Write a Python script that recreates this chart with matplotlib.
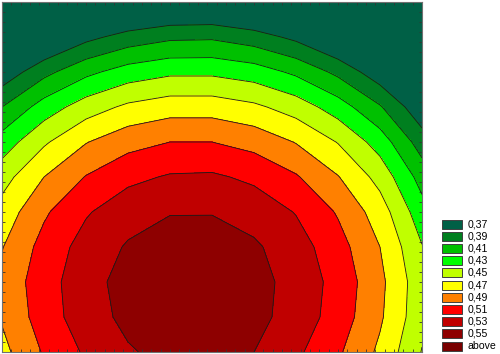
import matplotlib
matplotlib.use("Agg")
import matplotlib.pyplot as plt
from matplotlib.patches import Rectangle
import numpy as np

# grid columns / rows (row 0 = top of the plot)
x_vals = [0, 1, 2, 3, 4, 5, 6, 7, 8, 9, 10]
y_vals = [10, 9, 8, 7, 6, 5, 4, 3, 2, 1, 0]

# values
z_vals = [
    [0.268, 0.296, 0.317, 0.331, 0.338, 0.339, 0.332, 0.318, 0.297, 0.269, 0.235],
    [0.315, 0.343, 0.364, 0.378, 0.386, 0.387, 0.379, 0.365, 0.344, 0.316, 0.282],
    [0.356, 0.384, 0.405, 0.419, 0.426, 0.426, 0.420, 0.406, 0.385, 0.357, 0.322],
    [0.390, 0.419, 0.440, 0.454, 0.461, 0.461, 0.454, 0.441, 0.420, 0.392, 0.355],
    [0.419, 0.447, 0.469, 0.483, 0.490, 0.490, 0.483, 0.469, 0.449, 0.421, 0.380],
    [0.442, 0.470, 0.491, 0.505, 0.512, 0.513, 0.506, 0.492, 0.471, 0.443, 0.402],
    [0.458, 0.487, 0.508, 0.522, 0.529, 0.529, 0.522, 0.509, 0.488, 0.460, 0.418],
    [0.469, 0.497, 0.518, 0.532, 0.539, 0.540, 0.533, 0.519, 0.498, 0.470, 0.431],
    [0.476, 0.501, 0.523, 0.537, 0.544, 0.544, 0.537, 0.523, 0.503, 0.475, 0.437],
    [0.472, 0.500, 0.521, 0.535, 0.542, 0.542, 0.536, 0.522, 0.501, 0.473, 0.436],
    [0.464, 0.492, 0.513, 0.528, 0.536, 0.536, 0.530, 0.514, 0.493, 0.466, 0.429],
]

bounds = [0.37, 0.39, 0.41, 0.43, 0.45, 0.47, 0.49, 0.51, 0.53, 0.55]
labels = ["0,37", "0,39", "0,41", "0,43", "0,45", "0,47", "0,49", "0,51", "0,53", "0,55", "above"]
colors = ["#006046", "#007F1F", "#00C000", "#00FF00", "#C0FF00", "#FFFF00",
          "#FF8000", "#FF0000", "#C00000", "#8E0000", "#780000"]

z = np.array(z_vals)

fig = plt.figure(figsize=(5.0, 3.54), dpi=100)
ax = fig.add_axes([0.004, 0.0056, 0.84, 0.9888])

levels = [0.0] + bounds + [1.0]
ax.contourf(x_vals, y_vals, z, levels=levels, colors=colors)
ax.contour(x_vals, y_vals, z, levels=bounds, colors="#1a1a1a", linewidths=0.6)

ax.set_xlim(0, 10)
ax.set_ylim(0, 10)
ax.set_xticks(np.linspace(0, 10, 46))
ax.set_yticks(np.linspace(0, 10, 36))
ax.tick_params(direction="in", length=2.5, width=0.6, color="#333333",
               top=True, right=True, labelbottom=False, labelleft=False)
for s in ax.spines.values():
    s.set_color("#707070")
    s.set_linewidth(0.8)

# legend drawn by hand, bottom right
W, H = 500.0, 354.0
for i, (lab, c) in enumerate(zip(labels, colors)):
    yc = 224 + i * 12.2
    fig.add_artist(Rectangle((442 / W, 1 - (yc + 4.5) / H), 20 / W, 9 / H,
                             transform=fig.transFigure, facecolor=c,
                             edgecolor="#404040", linewidth=0.7))
    fig.text(468 / W, 1 - yc / H, lab, fontsize=7.6, family="Liberation Sans",
             va="center", ha="left")

fig.savefig("out.png", dpi=100)
